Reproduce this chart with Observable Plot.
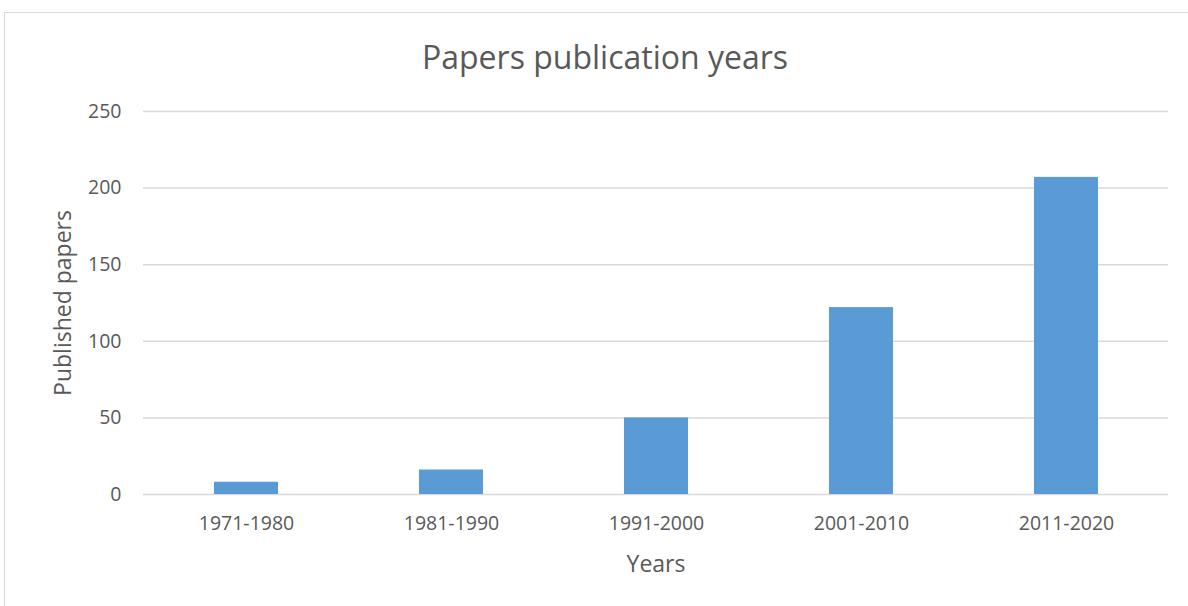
<!DOCTYPE html>
<html>
<head>
<meta charset="utf-8">
<script src="https://cdn.jsdelivr.net/npm/d3@7"></script>
<script src="https://cdn.jsdelivr.net/npm/@observablehq/plot@0.6"></script>
<style>
  html, body { margin: 0; padding: 0; background: #fff; overflow: hidden; }
  body { width: 1188px; height: 606px; position: relative; font-family: "Open Sans", sans-serif; }
  #frame { position: absolute; left: 4px; top: 12px; width: 1200px; height: 620px; border: 1px solid #d9d9d9; box-sizing: border-box; }
  #title { position: absolute; left: 0; width: 1210px; top: 35px; text-align: center; font-size: 32px; color: #595959; }
  #chart { position: absolute; left: 0; top: 90px; }
</style>
</head>
<body>
<div id="frame"></div>
<div id="title">Papers publication years</div>
<div id="chart"></div>
<script>
const categories = ["1971-1980", "1981-1990", "1991-2000", "2001-2010", "2011-2020"];
const papers = [8, 16, 50, 122, 207];
const yTicks = [0, 50, 100, 150, 200, 250];

const data = categories.map((c, i) => ({ period: c, count: papers[i] }));

const chart = Plot.plot({
  width: 1188,
  height: 516,
  marginLeft: 143,
  marginRight: 20,
  marginTop: 21,
  marginBottom: 112,
  style: { fontFamily: "Open Sans, sans-serif", fontSize: "19px", color: "#595959", background: "transparent" },
  x: { domain: categories, paddingInner: 0.69, paddingOuter: 0.345, align: 0.5, label: null },
  y: { domain: [0, 250], ticks: yTicks, label: null },
  marks: [
    Plot.gridY(yTicks, { stroke: "#d9d9d9", strokeOpacity: 1, strokeWidth: 1.5 }),
    Plot.barY(data, { x: "period", y: "count", fill: "#5b9bd5" }),
    Plot.axisY(yTicks, { tickSize: 0, tickPadding: 22, fontSize: 19.5, fill: "#595959", label: null }),
    Plot.axisX({ tickSize: 0, tickPadding: 22, fontSize: 19.5, fill: "#595959", label: null }),
    Plot.text(["Published papers"], { frameAnchor: "left", dx: -80, rotate: -90, fontSize: 23, fill: "#595959", textAnchor: "middle" }),
    Plot.text(["Years"], { frameAnchor: "bottom", dy: 77, fontSize: 23, fill: "#595959", textAnchor: "middle", style: { letterSpacing: "0.5px" } })
  ]
});
document.getElementById("chart").appendChild(chart);
</script>
</body>
</html>
